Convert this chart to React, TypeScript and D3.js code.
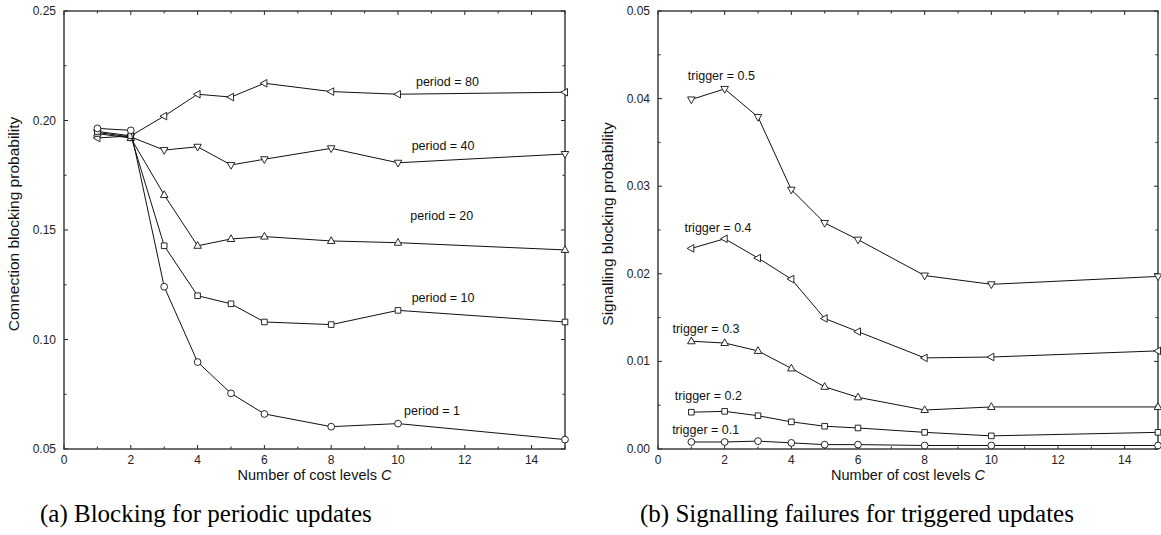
import React from "react";
import * as d3 from "d3";

// cost levels C (same for both panels)
const costLevels = [1, 2, 3, 4, 5, 6, 8, 10, 15];

// (a) connection blocking, periodic updates
const period1 = [0.1964, 0.1955, 0.1241, 0.0897, 0.0754, 0.066, 0.0602, 0.0616, 0.0543];
const period10 = [0.1950, 0.1930, 0.1428, 0.120, 0.1163, 0.108, 0.1068, 0.1133, 0.108];
const period20 = [0.1940, 0.1920, 0.166, 0.1428, 0.1459, 0.147, 0.145, 0.1442, 0.1409];
const period40 = [0.1945, 0.1925, 0.1865, 0.188, 0.1797, 0.1823, 0.1873, 0.1807, 0.1847];
const period80 = [0.1920, 0.1930, 0.202, 0.212, 0.2107, 0.217, 0.2132, 0.212, 0.2129];

// (b) signalling blocking, triggered updates
const trigger01 = [0.0008, 0.0008, 0.0009, 0.0007, 0.0005, 0.0005, 0.0004, 0.0004, 0.0004];
const trigger02 = [0.0042, 0.0043, 0.0038, 0.0031, 0.0026, 0.0024, 0.0019, 0.0015, 0.0019];
const trigger03 = [0.0123, 0.0121, 0.0112, 0.0092, 0.0071, 0.0059, 0.00445, 0.0048, 0.0048];
const trigger04 = [0.0229, 0.024, 0.0218, 0.0194, 0.0149, 0.0134, 0.0104, 0.0105, 0.0112];
const trigger05 = [0.0399, 0.0411, 0.0379, 0.0296, 0.0258, 0.0239, 0.0198, 0.0188, 0.0197];

const xTicks = [0, 2, 4, 6, 8, 10, 12, 14];

type Marker = "circle" | "square" | "up" | "down" | "left";

interface Series {
  values: number[];
  marker: Marker;
  label: string;
  lx: number; // label anchor in data units
  ly: number;
}

const periodSeries: Series[] = [
  { values: period80, marker: "left", label: "period = 80", lx: 11.48, ly: 0.2176 },
  { values: period40, marker: "down", label: "period = 40", lx: 11.35, ly: 0.1888 },
  { values: period20, marker: "up", label: "period = 20", lx: 11.31, ly: 0.1568 },
  { values: period10, marker: "square", label: "period = 10", lx: 11.35, ly: 0.119 },
  { values: period1, marker: "circle", label: "period = 1", lx: 11.02, ly: 0.0678 },
];

const triggerSeries: Series[] = [
  { values: trigger05, marker: "down", label: "trigger = 0.5", lx: 1.9, ly: 0.0426 },
  { values: trigger04, marker: "left", label: "trigger = 0.4", lx: 1.8, ly: 0.0253 },
  { values: trigger03, marker: "up", label: "trigger = 0.3", lx: 1.44, ly: 0.0137 },
  { values: trigger02, marker: "square", label: "trigger = 0.2", lx: 1.51, ly: 0.0061 },
  { values: trigger01, marker: "circle", label: "trigger = 0.1", lx: 1.43, ly: 0.0022 },
];

const SANS = "'Liberation Sans', Arial, Helvetica, sans-serif";
const SERIF = "'Liberation Serif', 'DejaVu Serif', serif";

function markerPath(m: Marker): string {
  const t = 4.2;
  switch (m) {
    case "up":
      return `M0,${-t}L${t * 0.9},${t * 0.6}L${-t * 0.9},${t * 0.6}Z`;
    case "down":
      return `M0,${t}L${t * 0.9},${-t * 0.6}L${-t * 0.9},${-t * 0.6}Z`;
    case "left":
      return `M${-t},0L${t * 0.6},${-t * 0.9}L${t * 0.6},${t * 0.9}Z`;
    case "square":
      return "M-2.8,-2.8H2.8V2.8H-2.8Z";
    default:
      return "M3.4,0A3.4,3.4 0 1 1 -3.4,0A3.4,3.4 0 1 1 3.4,0Z";
  }
}

function Panel({ left, right, yMax, yMin, yMajor, yMinor, fmt, yTitle, series }: {
  left: number; right: number; yMax: number; yMin: number;
  yMajor: number; yMinor: number; fmt: string; yTitle: string;
  series: Series[];
}) {
  const top = 11, bottom = 449;
  const x = d3.scaleLinear().domain([0, 15]).range([left, right]);
  const y = d3.scaleLinear().domain([yMin, yMax]).range([bottom, top]);
  const line = d3.line<number>().x((_, i) => x(costLevels[i])).y(d => y(d));
  const f = d3.format(fmt);
  const yMajors = d3.range(yMin, yMax + 1e-9, yMajor);
  const yMinors = d3.range(yMin, yMax + 1e-9, yMinor);
  const xMinors = d3.range(0, 16, 1);
  const tickCol = "#222";
  return (
    <g>
      {/* ticks on all four sides, pointing in */}
      {xMinors.map(v => {
        const len = v % 2 === 0 ? 4 : 2.5;
        return (
          <g key={"xt" + v} stroke={tickCol} strokeWidth={1}>
            <line x1={x(v)} x2={x(v)} y1={bottom} y2={bottom - len} />
            <line x1={x(v)} x2={x(v)} y1={top} y2={top + len} />
          </g>
        );
      })}
      {yMinors.map((v, i) => {
        const len = i % Math.round(yMajor / yMinor) === 0 ? 4 : 2.5;
        return (
          <g key={"yt" + i} stroke={tickCol} strokeWidth={1}>
            <line x1={left} x2={left + len} y1={y(v)} y2={y(v)} />
            <line x1={right} x2={right - len} y1={y(v)} y2={y(v)} />
          </g>
        );
      })}
      <rect x={left} y={top} width={right - left} height={bottom - top}
        fill="none" stroke="#333" strokeWidth={1.4} />
      {xTicks.map(v => (
        <text key={"xl" + v} x={x(v)} y={464} textAnchor="middle"
          fontFamily={SANS} fontSize={12} fill="#222">{v}</text>
      ))}
      {yMajors.map((v, i) => (
        <text key={"yl" + i} x={left - 8} y={y(v) + 4} textAnchor="end"
          fontFamily={SANS} fontSize={12} fill="#222">{f(v)}</text>
      ))}
      <text x={(left + right) / 2} y={480} textAnchor="middle"
        fontFamily={SANS} fontSize={14.5} fill="#111">
        Number of cost levels <tspan fontStyle="italic">C</tspan>
      </text>
      <text transform={`translate(${left - 45},${(top + bottom) / 2 - 6}) rotate(-90)`}
        textAnchor="middle" fontFamily={SANS} fontSize={15.5} fill="#111">{yTitle}</text>
      {series.map(s => (
        <g key={s.label}>
          <path d={line(s.values) ?? ""} fill="none" stroke="#111" strokeWidth={1} />
          {s.values.map((v, i) => (
            <path key={i} d={markerPath(s.marker)}
              transform={`translate(${x(costLevels[i])},${y(v)})`}
              fill="#fff" stroke="#111" strokeWidth={0.9} />
          ))}
          <text x={x(s.lx)} y={y(s.ly) + 4.5} textAnchor="middle"
            fontFamily={SANS} fontSize={12.5} fill="#111">{s.label}</text>
        </g>
      ))}
    </g>
  );
}

export default function App() {
  return (
    <svg width={1161} height={535} style={{ display: "block", position: "absolute", left: 0, top: 0, background: "#fff" }}>
      <rect width={1161} height={535} fill="#fff" />
      <Panel left={64} right={565} yMin={0.05} yMax={0.25} yMajor={0.05} yMinor={0.025}
        fmt=".2f" yTitle="Connection blocking probability" series={periodSeries} />
      <Panel left={658} right={1158} yMin={0} yMax={0.05} yMajor={0.01} yMinor={0.005}
        fmt=".2f" yTitle="Signalling blocking probability" series={triggerSeries} />
      <text x={40} y={522} fontFamily={SERIF} fontSize={25} fill="#000">
        (a) Blocking for periodic updates
      </text>
      <text x={640} y={522} fontFamily={SERIF} fontSize={25} fill="#000">
        (b) Signalling failures for triggered updates
      </text>
    </svg>
  );
}
